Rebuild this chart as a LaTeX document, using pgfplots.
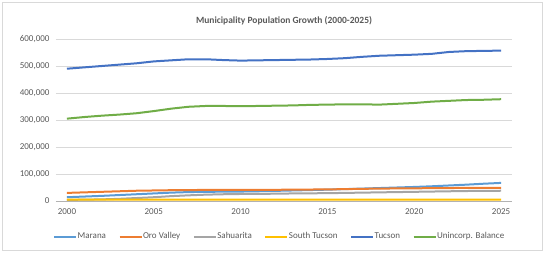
\documentclass[border=0pt]{standalone}
\usepackage{pgfplots}
\pgfplotsset{compat=1.18}
\usepackage{fontspec}
\setmainfont{Carlito}
\definecolor{cMar}{HTML}{5B9BD5}
\definecolor{cOro}{HTML}{ED7D31}
\definecolor{cSah}{HTML}{A5A5A5}
\definecolor{cSou}{HTML}{FFC000}
\definecolor{cTuc}{HTML}{4472C4}
\definecolor{cUni}{HTML}{70AD47}
\definecolor{txt}{HTML}{595959}
\pgfplotsset{mylegend/.style={legend image code/.code={\draw[##1, line width=2pt] (0pt,0pt) -- (22pt,0pt);}}}
\begin{document}
\begin{tikzpicture}[x=1pt,y=1pt]
\useasboundingbox (-56,-51) rectangle (488,201);
\draw[black!15, line width=0.8pt] (-54,-49) rectangle (486,199);
\begin{axis}[
  at={(0,0)}, anchor=south west,
  width=456pt, height=162pt, scale only axis,
  xmin=1999.37, xmax=2025.63, ymin=0, ymax=600000,
  xtick={2000,2005,2010,2015,2020,2025},
  xticklabels={2000,2005,2010,2015,2020,2025},
  ytick={0,100000,200000,300000,400000,500000,600000},
  yticklabels={0,{100,000},{200,000},{300,000},{400,000},{500,000},{600,000}},
  xticklabel style={yshift=-4pt},
  yticklabel style={xshift=-3pt},
  scaled y ticks=false,
  ymajorgrids, grid style={black!15, line width=0.6pt},
  axis line style={draw=none},
  tick style={draw=none},
  tick label style={font=\fontsize{9}{10}\selectfont, text=txt},
  title={\bfseries Municipality Population Growth (2000-2025)},
  title style={font=\fontsize{9.5}{11}\selectfont, text=txt, yshift=4pt},
  legend style={at={(0.5,-0.17)}, anchor=north, draw=none, fill=none, xshift=-5pt,
    legend columns=6, font=\fontsize{9}{10}\selectfont, text=txt,
    nodes={inner xsep=0.5pt},
    /tikz/every odd column/.append style={column sep=0pt},
    /tikz/every even column/.append style={column sep=12pt}},
  mylegend,
  every axis plot/.append style={line width=2pt, mark=none},
]
\draw[black!30, line width=0.8pt] (axis cs:1999.37,0) -- (axis cs:2025.63,0);
\addplot[cMar] coordinates {(2000,14000)(2001,16500)(2002,19000)(2003,22000)(2004,25000)(2005,28000)(2006,31000)(2007,33000)(2008,34000)(2009,34500)(2010,35000)(2011,36000)(2012,37500)(2013,39000)(2014,40500)(2015,42000)(2016,44000)(2017,46000)(2018,48000)(2019,50000)(2020,52000)(2021,54500)(2022,57500)(2023,60500)(2024,64000)(2025,67000)};
\addlegendentry{Marana}
\addplot[cOro] coordinates {(2000,30000)(2001,32000)(2002,34000)(2003,36000)(2004,38000)(2005,39000)(2006,40000)(2007,40500)(2008,41000)(2009,41000)(2010,41000)(2011,41200)(2012,41500)(2013,42000)(2014,42500)(2015,43000)(2016,44000)(2017,45000)(2018,46000)(2019,46500)(2020,47000)(2021,47500)(2022,48000)(2023,48500)(2024,49000)(2025,49000)};
\addlegendentry{Oro Valley}
\addplot[cSah] coordinates {(2000,4000)(2001,5000)(2002,6000)(2003,8000)(2004,11000)(2005,14000)(2006,18000)(2007,21000)(2008,23500)(2009,25000)(2010,26000)(2011,26500)(2012,27000)(2013,28000)(2014,28500)(2015,29000)(2016,30000)(2017,31000)(2018,32000)(2019,33000)(2020,34000)(2021,35000)(2022,36000)(2023,37000)(2024,37500)(2025,38000)};
\addlegendentry{Sahuarita}
\addplot[cSou] coordinates {(2000,5500)(2005,5500)(2010,5200)(2015,5200)(2020,5000)(2025,5000)};
\addlegendentry{South Tucson}
\addplot[cTuc] coordinates {(2000,490000)(2001,495000)(2002,500000)(2003,505000)(2004,510000)(2005,517000)(2006,521000)(2007,525000)(2008,525000)(2009,522000)(2010,520000)(2011,521000)(2012,522000)(2013,523000)(2014,524000)(2015,526000)(2016,529000)(2017,534000)(2018,538000)(2019,540000)(2020,542000)(2021,545000)(2022,552000)(2023,555000)(2024,556000)(2025,557000)};
\addlegendentry{Tucson}
\addplot[cUni] coordinates {(2000,305000)(2001,311000)(2002,316000)(2003,320000)(2004,325000)(2005,333000)(2006,342000)(2007,349000)(2008,352000)(2009,352000)(2010,351000)(2011,352000)(2012,353000)(2013,354000)(2014,356000)(2015,357000)(2016,358000)(2017,358000)(2018,357000)(2019,360000)(2020,363000)(2021,368000)(2022,371000)(2023,374000)(2024,375000)(2025,377000)};
\addlegendentry{Unincorp. Balance}
\end{axis}
\end{tikzpicture}
\end{document}
